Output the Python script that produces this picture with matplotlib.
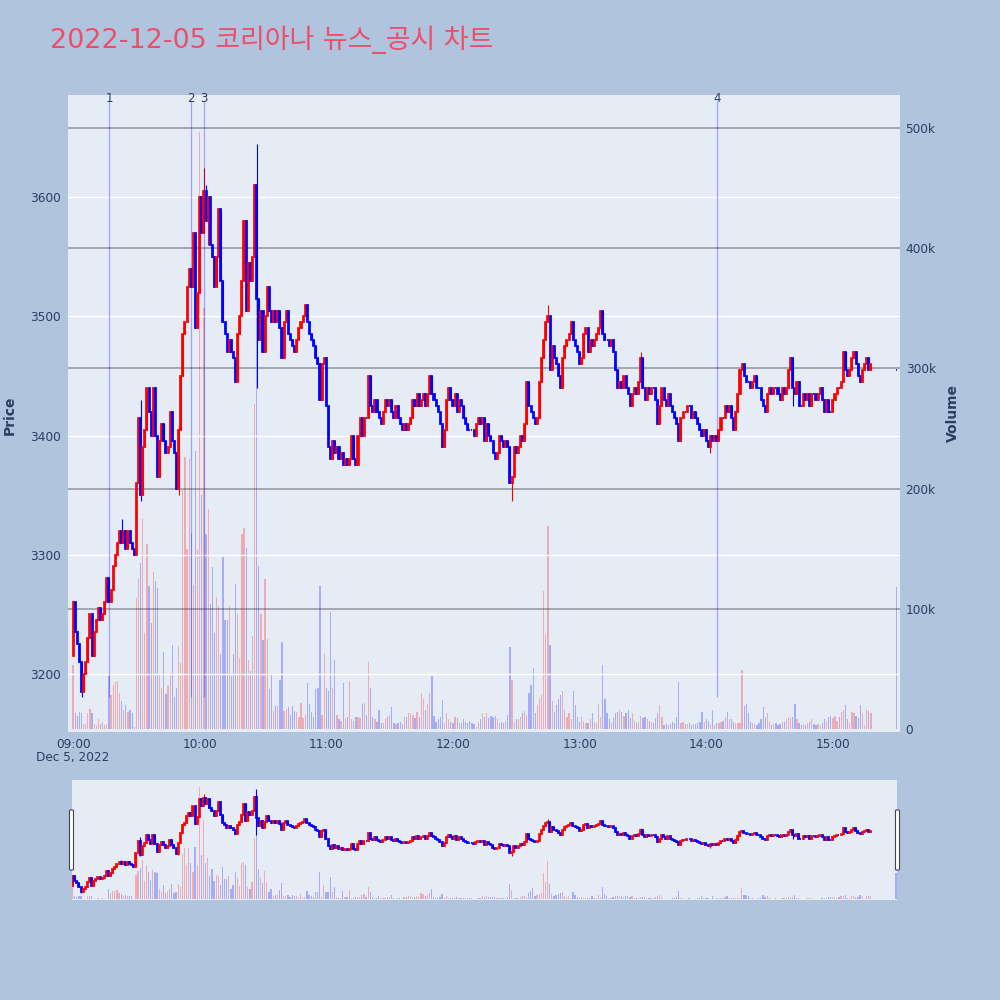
import numpy as np
import pandas as pd
import matplotlib
matplotlib.use('Agg')
import matplotlib.pyplot as plt
import matplotlib.dates as mdates
from matplotlib.patches import FancyBboxPatch

plt.rcParams['font.family'] = ['DejaVu Sans', 'Noto Sans CJK KR']

# 1-minute closes from 09:00 to 15:18
first_open = 3215
closes = [
    3260, 3235, 3225, 3210, 3185, 3200, 3210, 3230, 3250, 3215,
    3235, 3245, 3255, 3245, 3250, 3260, 3280, 3260, 3270, 3290,
    3300, 3310, 3320, 3310, 3320, 3305, 3320, 3310, 3305, 3300,
    3360, 3415, 3350, 3390, 3405, 3440, 3420, 3400, 3440, 3400,
    3365, 3395, 3410, 3395, 3385, 3390, 3420, 3395, 3385, 3355,
    3405, 3450, 3485, 3495, 3525, 3540, 3525, 3570, 3490, 3520,
    3600, 3570, 3605, 3580, 3600, 3560, 3550, 3525, 3550, 3590,
    3530, 3495, 3485, 3470, 3480, 3470, 3465, 3445, 3485, 3500,
    3530, 3580, 3505, 3545, 3530, 3550, 3610, 3515, 3480, 3505,
    3470, 3500, 3525, 3505, 3495, 3505, 3495, 3505, 3490, 3465,
    3495, 3505, 3485, 3480, 3475, 3470, 3480, 3490, 3495, 3500,
    3510, 3495, 3485, 3480, 3475, 3465, 3460, 3430, 3460, 3465,
    3425, 3390, 3380, 3395, 3385, 3390, 3380, 3385, 3375, 3380,
    3375, 3380, 3400, 3380, 3375, 3400, 3415, 3400, 3415, 3415,
    3450, 3425, 3420, 3430, 3420, 3415, 3410, 3420, 3430, 3425,
    3430, 3420, 3415, 3425, 3415, 3410, 3405, 3410, 3405, 3410,
    3415, 3430, 3425, 3435, 3425, 3430, 3435, 3425, 3435, 3450,
    3435, 3430, 3425, 3420, 3410, 3390, 3405, 3430, 3440, 3430,
    3425, 3435, 3420, 3430, 3425, 3415, 3410, 3405, 3405, 3405,
    3400, 3410, 3415, 3410, 3415, 3395, 3410, 3400, 3395, 3385,
    3380, 3385, 3400, 3395, 3390, 3395, 3390, 3360, 3365, 3390,
    3385, 3390, 3400, 3395, 3410, 3445, 3425, 3420, 3415, 3410,
    3415, 3445, 3465, 3480, 3495, 3500, 3455, 3475, 3465, 3460,
    3450, 3440, 3465, 3475, 3480, 3485, 3495, 3480, 3475, 3470,
    3460, 3465, 3485, 3490, 3470, 3480, 3475, 3480, 3485, 3490,
    3505, 3485, 3480, 3480, 3475, 3480, 3470, 3455, 3440, 3445,
    3440, 3450, 3440, 3435, 3425, 3435, 3440, 3435, 3445, 3465,
    3440, 3430, 3440, 3435, 3440, 3440, 3430, 3410, 3425, 3440,
    3430, 3425, 3435, 3425, 3420, 3415, 3410, 3395, 3415, 3420,
    3420, 3425, 3425, 3415, 3420, 3415, 3410, 3405, 3400, 3405,
    3395, 3390, 3400, 3395, 3400, 3395, 3405, 3415, 3415, 3425,
    3420, 3425, 3415, 3405, 3420, 3435, 3455, 3460, 3450, 3445,
    3445, 3440, 3445, 3450, 3440, 3440, 3430, 3425, 3420, 3435,
    3440, 3435, 3440, 3440, 3435, 3430, 3440, 3435, 3440, 3455,
    3465, 3440, 3435, 3445, 3425, 3425, 3435, 3430, 3435, 3425,
    3435, 3435, 3430, 3435, 3440, 3430, 3420, 3430, 3420, 3420,
    3430, 3435, 3440, 3440, 3445, 3470, 3455, 3450, 3455, 3465,
    3470, 3460, 3450, 3445, 3455, 3460, 3465, 3455, 3460,
]

# candles with visible wicks: minute index, high, low
wick_idx = [4, 23, 32, 50, 62, 63, 64, 87, 208, 225, 269, 302, 341]
wick_hi = [3210, 3330, 3430, 3410, 3625, 3610, 3600, 3645, 3365, 3510, 3470, 3400, 3465]
wick_lo = [3180, 3310, 3345, 3350, 3570, 3580, 3560, 3440, 3345, 3495, 3445, 3385, 3425]

# volume per minute, thousands of shares
volumes_k = [
    53, 13, 11, 14, 13, 4, 4, 13, 17, 13,
    4, 3, 8, 4, 6, 3, 4, 44, 28, 37,
    39, 40, 30, 23, 16, 20, 14, 16, 13, 2,
    109, 125, 138, 175, 80, 154, 119, 88, 131, 123,
    117, 45, 34, 64, 29, 36, 47, 70, 27, 34,
    69, 55, 199, 226, 150, 225, 163, 120, 231, 150,
    497, 195, 350, 162, 183, 104, 135, 80, 110, 102,
    62, 143, 91, 91, 102, 44, 62, 121, 96, 59,
    162, 167, 151, 57, 48, 77, 270, 425, 136, 96,
    74, 125, 75, 33, 46, 15, 19, 19, 41, 72,
    15, 17, 18, 12, 19, 15, 14, 10, 22, 9,
    12, 38, 21, 14, 10, 33, 34, 119, 12, 62,
    34, 32, 97, 34, 57, 12, 8, 7, 38, 9,
    10, 40, 8, 7, 10, 10, 9, 21, 22, 12,
    56, 34, 10, 8, 6, 16, 5, 5, 8, 10,
    12, 18, 5, 4, 5, 6, 4, 10, 10, 13,
    13, 12, 9, 14, 10, 30, 25, 16, 21, 30,
    44, 11, 6, 8, 10, 24, 5, 13, 8, 6,
    5, 10, 9, 6, 5, 8, 6, 5, 7, 5,
    4, 2, 6, 8, 13, 10, 13, 9, 11, 10,
    11, 8, 5, 6, 5, 7, 12, 68, 41, 6,
    8, 8, 10, 13, 15, 12, 30, 37, 51, 13,
    20, 26, 28, 115, 79, 169, 70, 23, 14, 20,
    25, 28, 32, 16, 10, 13, 8, 32, 20, 10,
    6, 11, 7, 5, 5, 8, 13, 6, 5, 21,
    10, 53, 25, 13, 8, 5, 9, 13, 14, 16,
    14, 11, 13, 16, 9, 13, 7, 5, 6, 11,
    9, 10, 8, 7, 6, 5, 9, 13, 20, 10,
    3, 4, 3, 4, 6, 5, 10, 39, 5, 6,
    4, 4, 5, 3, 4, 4, 5, 6, 14, 6,
    8, 7, 4, 16, 3, 5, 5, 6, 7, 10,
    14, 8, 8, 6, 5, 5, 5, 49, 19, 21,
    13, 6, 5, 4, 3, 5, 8, 18, 10, 13,
    6, 3, 4, 5, 3, 4, 6, 6, 8, 10,
    9, 10, 21, 8, 5, 3, 4, 3, 5, 6,
    8, 4, 3, 4, 3, 5, 8, 7, 10, 11,
    9, 11, 7, 10, 14, 16, 20, 8, 5, 14,
    13, 11, 9, 20, 13, 3, 17, 15, 13,
]

# closing auction at 15:30
auction_close = 3455
auction_volume_k = 118

event_times = ['09:17', '09:56', '10:02', '14:05']
event_labels = ['1', '2', '3', '4']

price_ticks = [3200, 3300, 3400, 3500, 3600]
volume_ticks = [0, 100000, 200000, 300000, 400000, 500000]
volume_ticklabels = ['0', '100k', '200k', '300k', '400k', '500k']

# ---- build OHLC ----
day = '2022-12-05 '
times = pd.date_range(day + '09:00', periods=len(closes), freq='min')
times = times.append(pd.DatetimeIndex([day + '15:30']))
x = mdates.date2num(times.to_pydatetime())
close = np.array(closes + [auction_close], dtype=float)
opn = np.concatenate([[first_open], close[:-1]])
opn[-1] = auction_close
high = np.maximum(opn, close)
low = np.minimum(opn, close)
high[wick_idx] = wick_hi
low[wick_idx] = wick_lo
vol = np.array(volumes_k + [auction_volume_k], dtype=float) * 1000
up = close > opn

RED, BLUE = '#FF0000', '#0000FF'
cols = np.where(up, RED, BLUE)
vcols = [(1, 0, 0, 0.27) if u else (0, 0, 1, 0.27) for u in up]
MIN = 1 / 1440.0
t0 = mdates.date2num(pd.Timestamp(day + '09:00').to_pydatetime())

PAPER = '#B0C4DE'
PLOT = '#E5ECF6'
TXT = '#2a3f5f'


def draw(ax_v, ax_p):
    ax_v.bar(x, vol, width=0.6 * MIN, color=vcols, linewidth=0, zorder=2)
    ax_p.vlines(x, low, high, colors=cols, linewidth=0.8, zorder=3)
    ax_p.bar(x, close - opn, bottom=opn, width=0.5 * MIN, color=cols,
             edgecolor=cols, linewidth=1.25, zorder=4)


fig = plt.figure(figsize=(10, 10), dpi=100, facecolor=PAPER)

# ---- main chart ----
ax_v = fig.add_axes([0.068, 0.268, 0.832, 0.637])
ax_v.set_facecolor(PLOT)
ax_p = ax_v.twinx()
ax_p.patch.set_visible(False)

draw(ax_v, ax_p)

ax_v.set_xlim(t0 - 2.4 * MIN, t0 + 391.8 * MIN)
ax_v.set_ylim(-2500, 527500)
ax_p.set_ylim(3151, 3686)

for v in volume_ticks[1:]:
    ax_v.axhline(v, color='#8f949c', linewidth=1.1, zorder=1)
for p in price_ticks:
    ax_p.axhline(p, color='white', linewidth=1.0, zorder=1)

ax_v.yaxis.tick_right()
ax_v.set_yticks(volume_ticks)
ax_v.set_yticklabels(volume_ticklabels)
ax_p.yaxis.tick_left()
ax_p.set_yticks(price_ticks)
ax_p.set_yticklabels([str(p) for p in price_ticks])

ax_v.xaxis.set_major_locator(mdates.HourLocator())
ax_v.xaxis.set_major_formatter(mdates.DateFormatter('%H:%M'))

for a in (ax_v, ax_p):
    for s in a.spines.values():
        s.set_visible(False)
    a.tick_params(length=0, colors=TXT, labelsize=8.7)
ax_v.tick_params(axis='x', pad=4)
ax_v.tick_params(axis='y', pad=4)
ax_p.tick_params(axis='y', pad=5)

# event markers
for t, lab in zip(event_times, event_labels):
    ex = mdates.date2num(pd.Timestamp(day + t).to_pydatetime())
    ax_p.vlines(ex, 3180, 3681, colors=[(0, 0, 1, 0.3)], linewidth=0.9, zorder=5)
    ax_p.text(ex, 3683, lab, ha='center', va='center', fontsize=8.5,
              color=TXT, clip_on=False, zorder=6)

fig.text(0.073, 0.243, 'Dec 5, 2022', ha='center', va='center',
         fontsize=8.7, color=TXT)
fig.text(0.010, 0.585, 'Price', rotation=90, ha='center', va='center',
         fontsize=10, fontweight='bold', color=TXT)
fig.text(0.953, 0.587, 'Volume', rotation=90, ha='center', va='center',
         fontsize=10, fontweight='bold', color=TXT)

fig.text(0.05, 0.96, '2022-12-05 코리아나 뉴스_공시 차트', ha='left', va='center',
         fontsize=19.4, color='#EB4F6A')

# ---- range slider ----
sv = fig.add_axes([0.072, 0.100, 0.825, 0.120])
sv.set_facecolor(PLOT)
sp = sv.twinx()
sp.patch.set_visible(False)
draw(sv, sp)
sv.set_xlim(t0 - 0.3 * MIN, t0 + 390.5 * MIN)
sv.set_ylim(-2500, 527500)
sp.set_ylim(3151, 3686)
for a in (sv, sp):
    a.set_xticks([])
    a.set_yticks([])
    for s in a.spines.values():
        s.set_visible(False)

for hx in (0.0695, 0.8955):
    fig.patches.append(FancyBboxPatch((hx, 0.130), 0.004, 0.060,
                                      boxstyle='round,pad=0,rounding_size=0.001',
                                      transform=fig.transFigure,
                                      facecolor='white', edgecolor='#444444',
                                      linewidth=0.8))

fig.savefig('out.png', dpi=100, facecolor=PAPER)
